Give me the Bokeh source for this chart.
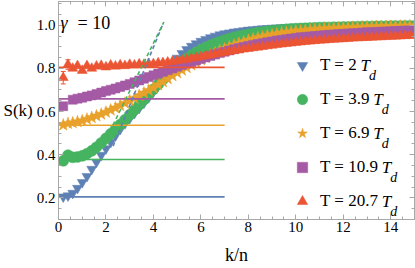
import numpy as np
from bokeh.plotting import figure
from bokeh.models import (LinearAxis, SingleIntervalTicker, Range1d, Label,
                          Legend, LegendItem, ColumnDataSource, Whisker, TeeHead,
                          PrintfTickFormatter)
from bokeh.embed import file_html
from bokeh.resources import INLINE

nan = float("nan")

# ---------------- data ----------------
k_over_n = [0.2, 0.4, 0.6, 0.8, 1.0, 1.2, 1.4, 1.6, 1.8, 2.0,
            2.2, 2.4, 2.6, 2.8, 3.0, 3.2, 3.4, 3.6, 3.8, 4.0,
            4.2, 4.4, 4.6, 4.8, 5.0, 5.2, 5.4, 5.6, 5.8, 6.0,
            6.2, 6.4, 6.6, 6.8, 7.0, 7.2, 7.4, 7.6, 7.8, 8.0,
            8.2, 8.4, 8.6, 8.8, 9.0, 9.2, 9.4, 9.6, 9.8, 10.0,
            10.2, 10.4, 10.6, 10.8, 11.0, 11.2, 11.4, 11.6, 11.8, 12.0,
            12.2, 12.4, 12.6, 12.8, 13.0, 13.2, 13.4, 13.6, 13.8, 14.0,
            14.2, 14.4, 14.6, 14.8, 15.0]

S_T2 = [.205, .210, .222, .245, .272, .300, .333, .366, .398, .428,
        .458, .488, .518, .545, .568, .592, .616, .640, .665, .692,
        .720, .750, .785, .818, .848, .870, .888, .903, .915, .926,
        .935, .943, .950, .956, .961, .965, .969, .972, .975, .978,
        .980, .982, .984, .985, .987, .988, .989, .990, .991, .992,
        .992, .993, .993, .994, .994, .995, .995, .995, .996, .996,
        .996, .996, .997, .997, .997, .997, .997, .998, .998, .998,
        .998, .998, .998, .999, .999]

S_T39 = [.372, .398, .388, .390, .395, .405, .418, .435, .455, .476,
         .497, .518, .540, .562, .585, .608, .632, .656, .680, .703,
         .726, .749, .771, .792, .812, .830, .846, .861, .874, .886,
         .897, .907, .916, .924, .931, .938, .944, .949, .954, .958,
         .962, .966, .969, .972, .975, .977, .979, .981, .983, .984,
         .985, .986, .987, .988, .989, .990, .990, .991, .991, .992,
         .992, .993, .993, .994, .994, .994, .995, .995, .995, .996,
         .996, .996, .997, .997, .997]

S_T69 = [.538, .545, .548, .553, .558, .565, .572, .580, .588, .597,
         .607, .617, .628, .639, .650, .662, .674, .686, .698, .710,
         .724, .738, .752, .766, .780, .792, .804, .816, .828, .840,
         .851, .862, .872, .882, .891, .900, .908, .916, .923, .930,
         .936, .942, .947, .952, .956, .960, .964, .967, .970, .973,
         .975, .977, .979, .981, .983, .984, .985, .986, .987, .988,
         .989, .990, .991, .991, .992, .993, .993, .994, .994, .995,
         .995, .996, .996, .997, .997]

S_T109 = [.625, nan, .655, .660, .664, .670, .675, .681, .688, .695,
          .701, .707, .714, .721, .728, .736, .744, .752, .760, .768,
          .776, .784, .792, .800, .808, .816, .823, .830, .837, .844,
          .851, .858, .864, .871, .877, .883, .889, .894, .899, .904,
          .909, .913, .917, .921, .925, .929, .932, .935, .938, .941,
          .944, .946, .948, .950, .952, .954, .956, .957, .959, .960,
          .962, .963, .964, .966, .967, .968, .969, .970, .971, .972,
          .973, .974, .975, .976, .977]

S_T207 = [.757, .818, .800, .812, .790, .812, .800, .810, .813, .806,
          .815, .810, .816, .812, .818, .815, .820, .818, .822, .821,
          .825, .826, .829, .832, .835, .838, .842, .846, .850, .854,
          .858, .862, .866, .870, .874, .878, .882, .885, .889, .892,
          .895, .898, .901, .904, .907, .910, .912, .915, .917, .920,
          .922, .924, .926, .928, .930, .931, .933, .934, .936, .937,
          .938, .940, .941, .942, .943, .944, .945, .946, .947, .948,
          .949, .950, .951, .952, .953]

T_labels = ["2", "3.9", "6.9", "10.9", "20.7"]

# S(0) reference levels (horizontal lines) and their k-extent
S0_levels = [0.205, 0.378, 0.537, 0.659, 0.805]
S0_k_start = [0, 0, 0, 0, 0]
S0_k_end = [7, 7, 7, 7, 7]

# small-k linear (dashed) lines
fit_k_T2 = [2.3, 4.40]
fit_S_T2 = [0.44, 1.006]
fit_k_T39 = [1.9, 4.44]
fit_S_T39 = [0.45, 1.015]

# error bars on the first points of the T = 20.7 series
err_k = [0.2, 0.4]
err_lo = [0.728, 0.796]
err_hi = [0.786, 0.840]

gamma_value = 10

# ---------------- styling ----------------
colors = ["#5E81B5", "#45B35F", "#E8A12A", "#A55AA5", "#EB5533"]
markers = ["inverted_triangle", "circle", "star", "square", "triangle"]
msizes = [10, 11, 13, 9, 10]
SERIF = "Liberation Serif"
FRAME_GRAY = "#a8a8a8"

W, H = 415, 268
BL, BR, BT, BB = 58, 1, 1, 49
p = figure(width=W, height=H, output_backend="svg", toolbar_location=None,
           x_range=Range1d(0, 15), y_range=Range1d(0.1, 1.11),
           min_border_left=BL, min_border_right=BR, min_border_top=BT,
           min_border_bottom=BB, background_fill_color="white",
           border_fill_color="white")
p.xgrid.visible = False
p.ygrid.visible = False
p.outline_line_color = FRAME_GRAY
p.outline_line_width = 1

def style_axis(ax, interval, show_labels):
    ax.ticker = SingleIntervalTicker(interval=interval, num_minor_ticks=4)
    ax.axis_line_color = FRAME_GRAY
    ax.major_tick_line_color = FRAME_GRAY
    ax.minor_tick_line_color = FRAME_GRAY
    ax.major_tick_in = 5
    ax.major_tick_out = 0
    ax.minor_tick_in = 3
    ax.minor_tick_out = 0
    if show_labels:
        ax.major_label_text_font = SERIF
        ax.major_label_text_font_size = "15px"
        ax.major_label_text_color = "black"
        ax.axis_label_text_font = SERIF
        ax.axis_label_text_font_style = "normal"
        ax.axis_label_text_color = "black"
    else:
        ax.major_label_text_font_size = "1px"
        ax.major_label_text_color = None
        ax.major_label_standoff = 0

style_axis(p.xaxis[0], 2, True)
style_axis(p.yaxis[0], 0.2, True)
p.xaxis[0].axis_label = "k/n"
p.xaxis[0].axis_label_text_font_size = "18px"
p.xaxis[0].major_label_standoff = 2
p.xaxis[0].axis_label_standoff = 10
p.yaxis[0].axis_label = "S(k)"
p.yaxis[0].axis_label_text_font_size = "17px"
p.yaxis[0].axis_label_orientation = "horizontal"
p.yaxis[0].major_label_standoff = 3
p.yaxis[0].axis_label_standoff = 1
p.yaxis[0].formatter = PrintfTickFormatter(format="%.1f")

top_ax = LinearAxis()
style_axis(top_ax, 2, False)
p.add_layout(top_ax, "above")
right_ax = LinearAxis()
style_axis(right_ax, 0.2, False)
p.add_layout(right_ax, "right")

# ---------------- data marks ----------------
series = [S_T2, S_T39, S_T69, S_T109, S_T207]
renderers = []
for S, c, m, s in zip(series, colors, markers, msizes):
    src = ColumnDataSource(dict(k=k_over_n, S=S))
    r = p.scatter("k", "S", source=src, marker=m, size=s,
                  fill_color=c, line_color=c, line_width=0.5)
    renderers.append(r)

err_src = ColumnDataSource(dict(k=err_k, lo=err_lo, hi=err_hi))
p.add_layout(Whisker(base="k", lower="lo", upper="hi", source=err_src,
                     line_color=colors[4], line_width=1,
                     upper_head=TeeHead(size=5, line_color=colors[4]),
                     lower_head=TeeHead(size=5, line_color=colors[4])))

hl_src = ColumnDataSource(dict(x0=S0_k_start, x1=S0_k_end, y=S0_levels, c=colors))
p.segment(x0="x0", x1="x1", y0="y", y1="y", source=hl_src,
          line_color="c", line_width=1.6)

p.line(fit_k_T2, fit_S_T2, line_color=colors[0], line_width=1.6, line_dash="4 3")
p.line(fit_k_T39, fit_S_T39, line_color=colors[1], line_width=1.6, line_dash="4 3")

# ---------------- legend (frame-relative screen units) ----------------
LEG_FS = 17
glyph_box = 26
row_gap = 34
legend_marker_x = 244
row_centers = [18 + row_gap * (4 - i) for i in range(5)]
label_standoff = 5

legend = Legend(items=[LegendItem(label="T = " + lab, renderers=[r])
                       for lab, r in zip(T_labels, renderers)],
                location=(legend_marker_x - glyph_box / 2, row_centers[4] - glyph_box / 2),
                glyph_width=glyph_box, glyph_height=glyph_box,
                label_height=glyph_box, label_standoff=label_standoff,
                label_text_font=SERIF, label_text_font_size=f"{LEG_FS}px",
                label_text_baseline="middle", label_text_color="black",
                spacing=row_gap - glyph_box, padding=0, margin=0,
                border_line_color=None, background_fill_alpha=0)
p.add_layout(legend)

def text_width(s, size):
    w = {"T": 0.611, " ": 0.25, "=": 0.564, ".": 0.25}
    return sum(w.get(ch, 0.5) for ch in s) * size

text_x = legend_marker_x + glyph_box / 2 + label_standoff
for lab, yc in zip(T_labels, row_centers):
    main = "T = " + lab
    tx = text_x + text_width(main, LEG_FS) + 3
    p.add_layout(Label(x=tx, y=yc, x_units="screen", y_units="screen",
                       text="T", text_font=SERIF, text_font_size=f"{LEG_FS}px",
                       text_font_style="italic", text_baseline="middle",
                       text_color="black"))
    p.add_layout(Label(x=tx + 8.5, y=yc - 10, x_units="screen",
                       y_units="screen", text="d", text_font=SERIF,
                       text_font_size="14px", text_font_style="italic",
                       text_baseline="alphabetic", text_color="black"))

# gamma annotation
g_base = 197
p.add_layout(Label(x=2, y=g_base, x_units="screen", y_units="screen", text="γ",
                   text_font=SERIF, text_font_size="18px", text_font_style="italic",
                   text_baseline="alphabetic", text_color="black"))
p.add_layout(Label(x=19, y=g_base, x_units="screen", y_units="screen",
                   text=f"= {gamma_value}", text_font=SERIF, text_font_size="18px",
                   text_baseline="alphabetic", text_color="black"))

open("out.html", "w").write(file_html(p, INLINE))
